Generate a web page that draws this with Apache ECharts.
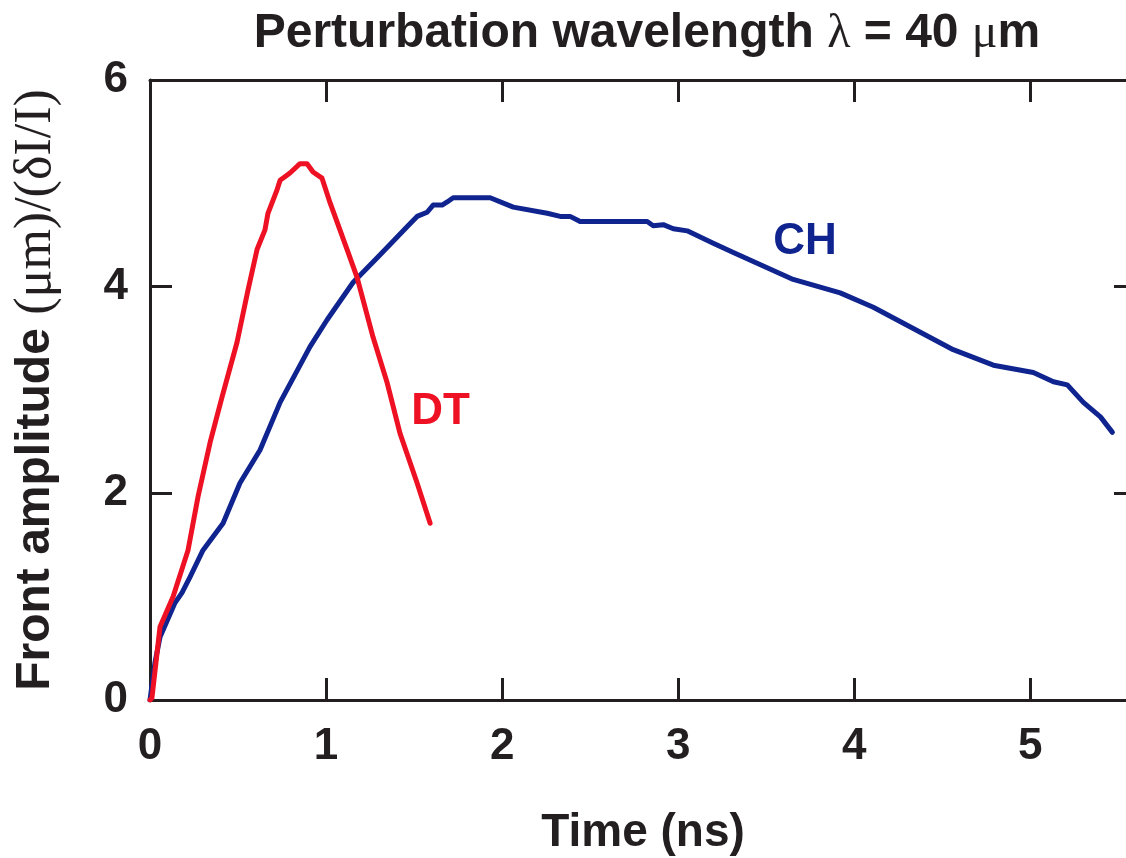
<!DOCTYPE html>
<html>
<head>
<meta charset="utf-8">
<script src="https://cdn.jsdelivr.net/npm/echarts@6/dist/echarts.min.js"></script>
<style>
  html, body { margin: 0; padding: 0; background: #fff; }
  #chart { width: 1126px; height: 858px; }
</style>
</head>
<body>
<div id="chart"></div>
<script>
/* valeurs */
var xTicks = [0, 1, 2, 3, 4, 5];
var yTicks = [0, 2, 4, 6];

var dtTime = [0, 0.011, 0.057, 0.131, 0.216, 0.273, 0.341, 0.409, 0.494, 0.557, 0.608, 0.653, 0.670, 0.722, 0.739, 0.795, 0.852, 0.892, 0.926, 0.977, 1.023, 1.119, 1.176, 1.267, 1.347, 1.420, 1.517, 1.591];
var dtAmp  = [0, 0.02, 0.71, 1.00, 1.45, 1.97, 2.49, 2.93, 3.46, 3.97, 4.36, 4.55, 4.71, 4.94, 5.03, 5.10, 5.19, 5.19, 5.11, 5.05, 4.81, 4.36, 4.09, 3.51, 3.07, 2.58, 2.10, 1.71];

var chTime = [0, 0.028, 0.057, 0.142, 0.182, 0.227, 0.301, 0.415, 0.511, 0.625, 0.739, 0.909, 1.006, 1.153, 1.307, 1.460, 1.517, 1.574, 1.608, 1.659, 1.688, 1.722, 1.932, 2.063, 2.256, 2.330, 2.386, 2.443, 2.824, 2.858, 2.915, 2.972, 3.051, 3.199, 3.313, 3.653, 3.920, 4.108, 4.562, 4.790, 5.017, 5.131, 5.210, 5.301, 5.398, 5.466];
var chAmp  = [0, 0.36, 0.61, 0.94, 1.04, 1.19, 1.45, 1.71, 2.10, 2.42, 2.88, 3.42, 3.68, 4.04, 4.31, 4.58, 4.68, 4.72, 4.79, 4.79, 4.82, 4.86, 4.86, 4.77, 4.71, 4.68, 4.68, 4.63, 4.63, 4.59, 4.60, 4.56, 4.54, 4.42, 4.33, 4.07, 3.94, 3.80, 3.39, 3.24, 3.17, 3.08, 3.05, 2.88, 2.74, 2.59];

function zip(a, b) {
  var out = [];
  for (var i = 0; i < a.length; i++) out.push([a[i], b[i]]);
  return out;
}

var axisColor = '#231f20';
var red = '#ee1123';
var navy = '#10248f';
var sans = '"Liberation Sans", Arial, sans-serif';
var serif = '"Liberation Serif", "Times New Roman", serif';

var chart = echarts.init(document.getElementById('chart'));

// axe de base, recopié pour haut/bas et gauche/droite
function frameAxis(pos, withLabels) {
  return {
    type: 'value',
    position: pos,
    min: 0,
    axisLine: { show: true, onZero: false, lineStyle: { color: axisColor, width: 3 } },
    axisTick: { show: true, inside: true, length: 22, lineStyle: { color: axisColor, width: 3 } },
    axisLabel: { show: withLabels },
    splitLine: { show: false }
  };
}

var xBottom = frameAxis('bottom', true);
xBottom.max = 5.6;
xBottom.interval = 1;
xBottom.axisLabel = {
  show: true, margin: 25, showMaxLabel: false,
  color: axisColor, fontFamily: sans, fontWeight: 'bold', fontSize: 44,
  formatter: function (v) { return xTicks.indexOf(v) >= 0 ? String(v) : ''; }
};
xBottom.name = 'Time (ns)';
xBottom.nameLocation = 'middle';
xBottom.nameGap = 110;
xBottom.nameTextStyle = { color: axisColor, fontFamily: sans, fontWeight: 'bold', fontSize: 46 };

var xTop = frameAxis('top', false);
xTop.max = 5.6;
xTop.interval = 1;

var yLeft = frameAxis('left', true);
yLeft.max = 6;
yLeft.interval = 2;
yLeft.axisLabel = {
  show: true, margin: 22,
  color: axisColor, fontFamily: sans, fontWeight: 'bold', fontSize: 44,
  formatter: function (v) { return yTicks.indexOf(v) >= 0 ? String(v) : ''; }
};
yLeft.name = '{b|Front amplitude }{r|(μm)/(δI/I)}';
yLeft.nameLocation = 'middle';
yLeft.nameRotate = 90;
yLeft.nameGap = 88;
yLeft.nameTextStyle = {
  rich: {
    b: { color: axisColor, fontFamily: sans, fontWeight: 'bold', fontSize: 48 },
    r: { color: axisColor, fontFamily: serif, fontWeight: 'normal', fontSize: 52 }
  }
};

var yRight = frameAxis('right', false);
yRight.max = 6;
yRight.interval = 2;

option = {
  animation: false,
  backgroundColor: '#fff',
  title: {
    text: '{a|Perturbation wavelength }{s|λ}{a| = 40 }{s|μ}{a|m}',
    left: 642,
    top: 5,
    textAlign: 'center',
    textStyle: {
      rich: {
        a: { color: axisColor, fontFamily: sans, fontWeight: 'bold', fontSize: 48 },
        s: { color: axisColor, fontFamily: serif, fontWeight: 'normal', fontSize: 48 }
      }
    }
  },
  grid: { left: 150, top: 80, width: 986, height: 620, outerBoundsMode: 'none', containLabel: false },
  xAxis: [xBottom, xTop],
  yAxis: [yLeft, yRight],
  series: [
    {
      name: 'CH',
      type: 'line',
      data: zip(chTime, chAmp),
      showSymbol: false,
      lineStyle: { color: navy, width: 5, join: 'round', cap: 'round' },
      markPoint: {
        symbol: 'circle', symbolSize: 0,
        label: { show: true, formatter: 'CH', color: navy, fontFamily: sans, fontWeight: 'bold', fontSize: 44 },
        data: [{ coord: [3.72, 4.43] }]
      }
    },
    {
      name: 'DT',
      type: 'line',
      data: zip(dtTime, dtAmp),
      showSymbol: false,
      lineStyle: { color: red, width: 5, join: 'round', cap: 'round' },
      markPoint: {
        symbol: 'circle', symbolSize: 0,
        label: { show: true, formatter: 'DT', color: red, fontFamily: sans, fontWeight: 'bold', fontSize: 44 },
        data: [{ coord: [1.65, 2.79] }]
      }
    }
  ]
};
chart.setOption(option);
</script>
</body>
</html>
